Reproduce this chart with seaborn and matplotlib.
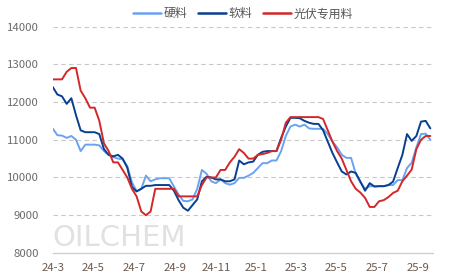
import numpy as np
import pandas as pd
import matplotlib
matplotlib.use("Agg")
import matplotlib.pyplot as plt
import seaborn as sns

# ---- data ----
start_date = "2024-03-01"
n_weeks = 82
series_names = ["硬料", "软料", "光伏专用料"]

hard = [11300, 11120, 11110, 11050, 11100, 11000, 10700, 10870, 10870, 10870,
        10850, 10700, 10600, 10540, 10500, 10480, 10300, 9870, 9640, 9700,
        10050, 9900, 9950, 9980, 9980, 9980, 9760, 9550, 9380, 9370,
        9420, 9700, 10200, 10100, 9900, 9850, 9950, 9850, 9810, 9850,
        9990, 9990, 10050, 10120, 10250, 10380, 10380, 10450, 10450, 10700,
        11100, 11350, 11400, 11350, 11400, 11300, 11290, 11290, 11290, 11150,
        10950, 10800, 10600, 10520, 10520, 10100, 9870, 9700, 9770, 9770,
        9770, 9770, 9800, 9800, 9930, 9930, 10250, 10390, 10800, 11150,
        11160, 11000]

soft = [12400, 12200, 12150, 11950, 12100, 11650, 11250, 11200, 11200, 11200,
        11150, 10750, 10600, 10560, 10600, 10500, 10260, 9750, 9630, 9700,
        9780, 9780, 9800, 9800, 9800, 9800, 9650, 9400, 9200, 9120,
        9270, 9420, 9900, 10020, 10000, 9950, 9950, 9900, 9900, 9950,
        10450, 10350, 10400, 10420, 10600, 10680, 10700, 10700, 10700, 11050,
        11350, 11580, 11580, 11570, 11500, 11450, 11420, 11420, 11250, 10950,
        10650, 10400, 10160, 10080, 10160, 10120, 9890, 9650, 9850, 9760,
        9770, 9770, 9800, 9890, 10250, 10600, 11150, 10970, 11100, 11480,
        11500, 11300]

pv = [12600, 12600, 12600, 12800, 12900, 12900, 12300, 12100, 11850, 11850,
      11500, 10900, 10700, 10400, 10400, 10200, 10000, 9700, 9500, 9100,
      9000, 9100, 9700, 9700, 9700, 9700, 9700, 9500, 9500, 9500,
      9500, 9500, 9800, 10000, 10000, 10000, 10200, 10200, 10400, 10550,
      10750, 10650, 10500, 10500, 10600, 10620, 10650, 10700, 10700, 11000,
      11450, 11600, 11600, 11600, 11600, 11600, 11600, 11600, 11550, 11250,
      10950, 10700, 10500, 10200, 9900, 9700, 9600, 9460, 9220, 9220,
      9370, 9400, 9480, 9590, 9650, 9900, 10050, 10210, 10750, 11000,
      11100, 11100]

tick_dates = ["2024-03-01", "2024-05-01", "2024-07-01", "2024-09-01", "2024-11-01",
              "2025-01-01", "2025-03-01", "2025-05-01", "2025-07-01", "2025-09-01"]
tick_labels = ["24-3", "24-5", "24-7", "24-9", "24-11",
               "25-1", "25-3", "25-5", "25-7", "25-9"]
y_ticks = [8000, 9000, 10000, 11000, 12000, 13000, 14000]

dates = pd.date_range(start_date, periods=n_weeks, freq="7D")
df = pd.concat([
    pd.DataFrame({"date": dates, "value": vals, "series": name})
    for name, vals in zip(series_names, [hard, soft, pv])
], ignore_index=True)

# ---- style ----
sns.set_style("white")
plt.rcParams["font.family"] = ["Noto Sans CJK SC", "DejaVu Sans"]

fig = plt.figure(figsize=(4.57, 2.79), dpi=100)
ax = fig.add_axes([0.1153, 0.0932, 0.8322, 0.8118])

palette = {"硬料": "#6aa3f2", "软料": "#083f8e", "光伏专用料": "#d3282a"}
sns.lineplot(data=df, x="date", y="value", hue="series", hue_order=series_names,
             palette=palette, linewidth=1.4, ax=ax, legend=True)

ax.set_ylim(8000, 14000)
ax.set_xlim(pd.Timestamp("2024-03-01"), pd.Timestamp("2025-09-23"))
ax.set_yticks(y_ticks)
ax.set_yticklabels([str(v) for v in y_ticks])
ax.set_xticks(pd.to_datetime(tick_dates))
ax.set_xticklabels(tick_labels)
ax.set_xlabel("")
ax.set_ylabel("")

for v in y_ticks[1:]:
    ax.axhline(v, color="#c8c8c8", linestyle=(0, (4, 3)), linewidth=0.8, zorder=0)

for s in ["left", "right", "top"]:
    ax.spines[s].set_visible(False)
ax.spines["bottom"].set_color("#cccccc")
ax.spines["bottom"].set_linewidth(0.9)

ax.tick_params(axis="y", length=0, labelsize=8.2, labelcolor="#6b6b6b", pad=10)
ax.tick_params(axis="x", length=4, width=0.8, color="#cccccc", labelsize=8.2,
               labelcolor="#6b5a4e", pad=3)

# watermark
ax.text(0.0, 0.005, "OILCHEM", transform=ax.transAxes, fontsize=21,
        family="DejaVu Sans", color="#e1e1e1", ha="left", va="bottom", zorder=0)

leg = ax.legend(loc="upper center", bbox_to_anchor=(0.532, 1.012), bbox_transform=fig.transFigure,
                ncol=3, frameon=False, fontsize=8.6, handlelength=2.35, handletextpad=0.25,
                columnspacing=0.85, labelcolor="#555555")
for h in leg.get_lines():
    h.set_linewidth(1.8)

fig.savefig("out.png", dpi=100)
